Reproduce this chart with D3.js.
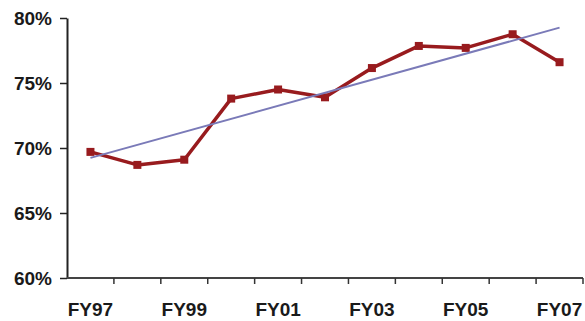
<!DOCTYPE html>
<html>
<head>
<meta charset="utf-8">
<script src="https://cdn.jsdelivr.net/npm/d3@7/dist/d3.min.js"></script>
<style>
  html, body { margin: 0; padding: 0; background: #fff; }
  svg { display: block; }
  .tick text { font-family: Arial, "Liberation Sans", sans-serif; font-weight: bold; font-size: 19px; fill: #1a1a1a; }
</style>
</head>
<body>
<svg id="chart" width="585" height="321"></svg>
<script>
// Fiscal years and the yearly share (percent)
const years = ["FY97", "FY98", "FY99", "FY00", "FY01", "FY02", "FY03", "FY04", "FY05", "FY06", "FY07"];
const shares = [69.7, 68.7, 69.1, 73.8, 74.5, 73.9, 76.15, 77.85, 77.7, 78.75, 76.6];
const yTicks = [60, 65, 70, 75, 80];
const xLabelYears = ["FY97", "FY99", "FY01", "FY03", "FY05", "FY07"];

const width = 585, height = 321;
const margin = { top: 18, right: 2, bottom: 43, left: 67 };

const svg = d3.select("#chart");

const x = d3.scaleBand()
  .domain(years)
  .range([margin.left, width - margin.right])
  .paddingInner(0).paddingOuter(0);

const y = d3.scaleLinear()
  .domain([60, 80])
  .range([height - margin.bottom, margin.top]);

// Y axis
const yAxis = svg.append("g")
  .attr("transform", `translate(${margin.left},0)`)
  .call(d3.axisLeft(y).tickValues(yTicks).tickFormat(d => d + "%").tickSize(7).tickSizeOuter(0).tickPadding(8));
yAxis.select(".domain").attr("stroke", "#222").attr("stroke-width", 2);
yAxis.selectAll(".tick line").attr("stroke", "#222").attr("stroke-width", 1.5);
yAxis.selectAll(".tick text").attr("dy", "0.36em");

// X axis: ticks on category boundaries, labels every other year
const xAxisG = svg.append("g")
  .attr("transform", `translate(0,${height - margin.bottom})`);
xAxisG.append("line")
  .attr("x1", margin.left).attr("x2", width - margin.right)
  .attr("stroke", "#444").attr("stroke-width", 2);
const boundaries = years.map(d => x(d)).concat([x(years[years.length - 1]) + x.bandwidth()]);
xAxisG.selectAll("line.bt")
  .data(boundaries.slice(1))
  .join("line")
  .attr("class", "bt")
  .attr("x1", d => d).attr("x2", d => d)
  .attr("y1", 0).attr("y2", 6)
  .attr("stroke", "#333").attr("stroke-width", 1.5);
xAxisG.selectAll("text")
  .data(xLabelYears)
  .join("text")
  .attr("x", d => x(d) + x.bandwidth() / 2)
  .attr("y", 38)
  .attr("text-anchor", "middle")
  .attr("font-family", "Arial, 'Liberation Sans', sans-serif")
  .attr("font-weight", "bold")
  .attr("font-size", 19)
  .attr("fill", "#1a1a1a")
  .text(d => d);

const cx = d => x(d) + x.bandwidth() / 2;
const data = years.map((d, i) => ({ year: d, v: shares[i] }));

// Share line with square markers
svg.append("path")
  .datum(data)
  .attr("fill", "none")
  .attr("stroke", "#981b1e")
  .attr("stroke-width", 3.5)
  .attr("stroke-linejoin", "round")
  .attr("d", d3.line().x(d => cx(d.year)).y(d => y(d.v)));

svg.selectAll("rect.mk")
  .data(data)
  .join("rect")
  .attr("class", "mk")
  .attr("x", d => cx(d.year) - 4)
  .attr("y", d => y(d.v) - 4)
  .attr("width", 8).attr("height", 8)
  .attr("fill", "#981b1e");

// Least-squares linear trend over the yearly values
const n = shares.length;
const idx = d3.range(n);
const mx = d3.mean(idx), my = d3.mean(shares);
const slope = d3.sum(idx, i => (i - mx) * (shares[i] - my)) / d3.sum(idx, i => (i - mx) ** 2);
const intercept = my - slope * mx;
svg.append("line")
  .attr("x1", cx(years[0])).attr("y1", y(intercept))
  .attr("x2", cx(years[n - 1])).attr("y2", y(intercept + slope * (n - 1)))
  .attr("stroke", "#7a7ab8")
  .attr("stroke-width", 2);
</script>
</body>
</html>
